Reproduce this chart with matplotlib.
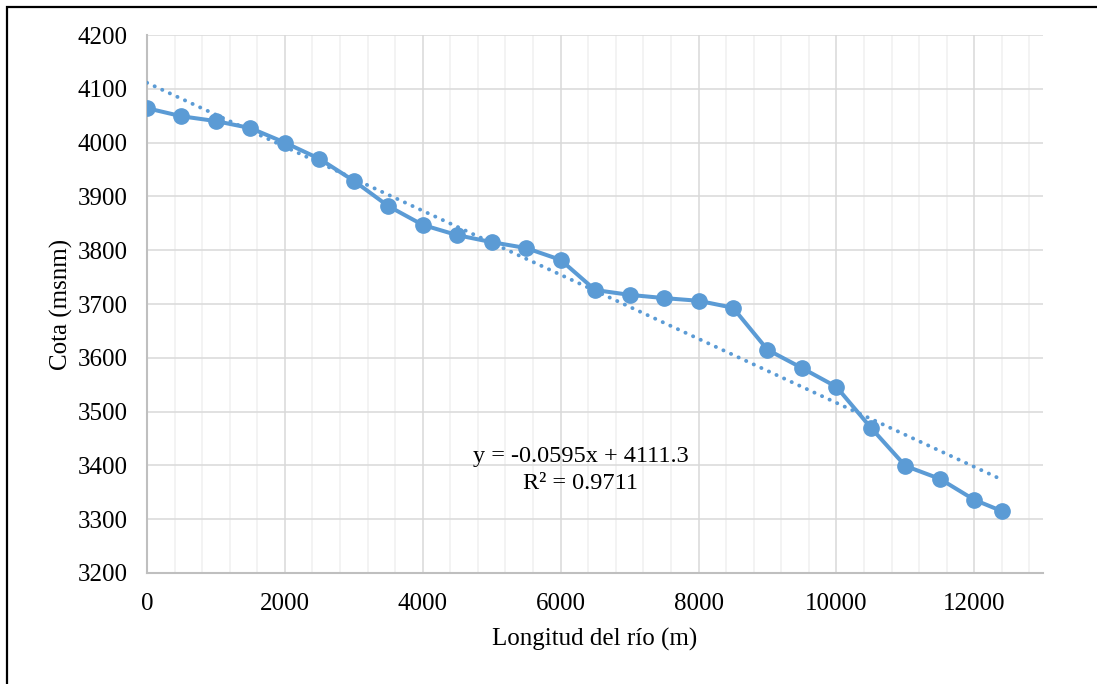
import numpy as np
import matplotlib
matplotlib.use('Agg')
import matplotlib.pyplot as plt
from matplotlib.ticker import MultipleLocator
from matplotlib.patches import Rectangle

# River profile: distance along the river (m) and elevation (m a.s.l.)
longitud = [0, 500, 1000, 1500, 2000, 2500, 3000, 3500, 4000, 4500, 5000,
            5500, 6000, 6500, 7000, 7500, 8000, 8500, 9000, 9500, 10000,
            10500, 11000, 11500, 12000, 12400]
cota = [4064, 4049, 4040, 4027, 4000, 3970, 3929, 3882, 3847, 3828, 3815,
        3804, 3782, 3726, 3717, 3711, 3706, 3693, 3615, 3581, 3546,
        3470, 3399, 3375, 3336, 3315]

# Linear trendline as reported on the chart
pendiente = -0.0595
intercepto = 4111.3
r2 = 0.9711

azul = '#5B9BD5'

plt.rcParams['font.family'] = ['Liberation Serif', 'DejaVu Serif']

fig = plt.figure(figsize=(10.97, 6.84), dpi=100)
ax = fig.add_axes([0.134, 0.1623, 0.817, 0.7865])

# chart border (only left and top edges fall inside the image)
fig.patches.append(Rectangle((6.5 / 1097, -0.1), 1.2, 1.1 - 6.5 / 684,
                             transform=fig.transFigure, fill=False,
                             edgecolor='black', linewidth=1.6))

x = np.array(longitud)
tx = np.array([x.min(), x.max()])
ax.plot(tx, pendiente * tx + intercepto, linestyle=(0, (0.05, 2.1)),
        color=azul, linewidth=2.8, dash_capstyle='round', zorder=3)
ax.plot(longitud, cota, color=azul, linewidth=2.9, marker='o',
        markersize=11, zorder=4)

ax.text(6290, 3417, f'y = {pendiente}x + {intercepto}', ha='center',
        va='center', fontsize=17.5)
ax.text(6290, 3366, f'R² = {r2}', ha='center', va='center', fontsize=17.5)

ax.set_xlim(0, 13000)
ax.set_ylim(3200, 4200)
ax.xaxis.set_major_locator(MultipleLocator(2000))
ax.xaxis.set_minor_locator(MultipleLocator(400))
ax.yaxis.set_major_locator(MultipleLocator(100))

ax.grid(True, which='major', color='#D9D9D9', linewidth=1.1, zorder=0)
ax.grid(True, which='minor', axis='x', color='#F0F0F0', linewidth=1.1, zorder=0)
ax.set_axisbelow(True)

for s in ['top', 'right']:
    ax.spines[s].set_visible(False)
for s in ['left', 'bottom']:
    ax.spines[s].set_color('#BFBFBF')
    ax.spines[s].set_linewidth(1.5)

ax.tick_params(which='both', length=0, labelsize=18)
ax.tick_params(axis='x', pad=14.5)
ax.tick_params(axis='y', pad=14)
ax.set_xlabel('Longitud del río (m)', fontsize=18, labelpad=9)
ax.set_ylabel('Cota (msnm)', fontsize=18, labelpad=3.5)

fig.savefig('out.png', dpi=100)
